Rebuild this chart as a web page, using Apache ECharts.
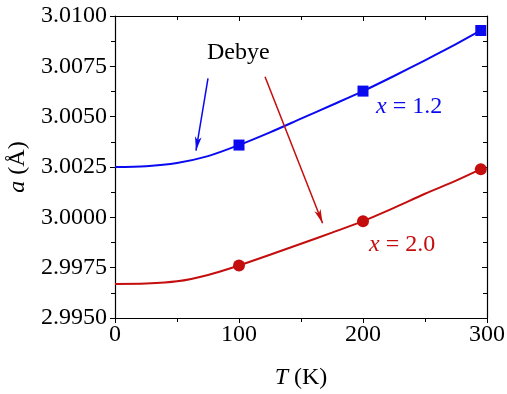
<!DOCTYPE html>
<html>
<head>
<meta charset="utf-8">
<script src="https://cdn.jsdelivr.net/npm/echarts@6/dist/echarts.min.js"></script>
<style>
  html, body { margin: 0; padding: 0; background: #fff; }
  #chart { width: 507px; height: 394px; }
</style>
</head>
<body>
<div id="chart"></div>
<script>
// Debye fit curves
var curveT = [0, 25, 50, 75, 100, 125, 150, 175, 200, 225, 250, 275, 295]
var curve12 = [3.0025, 3.00254, 3.0027, 3.00304, 3.00359, 3.00422, 3.0049, 3.00558, 3.00627, 3.00702, 3.0078, 3.0086, 3.00928]
var curve20 = [2.99669, 2.99671, 2.99682, 2.99714, 2.99761, 2.99814, 2.99869, 2.99924, 2.99981, 3.00047, 3.00117, 3.00182, 3.00239]
// measured points
var pointT = [100, 200, 295]
var points12 = [3.00359, 3.00627, 3.00928]
var points20 = [2.99761, 2.99981, 3.00239]
// arrows from the "Debye" label: [start, tip] as [T, a]
var arrow12 = [[75, 3.0069], [65.3, 3.00331]]
var arrow20 = [[121, 3.00698], [167.4, 2.99971]]

var BLUE = '#0a0af0'
var RED = '#c40d0d'
var FONT = '"Liberation Serif", "Times New Roman", serif'

function pairs(xs, ys) {
  return xs.map(function(x, i) { return [x, ys[i]] })
}

function arrowLine(a, color) {
  return {
    silent: true,
    symbol: ['none', 'arrow'],
    symbolSize: [5, 14],
    label: { show: false },
    lineStyle: { color: color, width: 1.5, type: 'solid', opacity: 1 },
    data: [[{ coord: a[0] }, { coord: a[1] }]]
  }
}

var chart = echarts.init(document.getElementById('chart'))

var xBase = {
  type: 'value', min: 0, max: 300, interval: 100,
  axisLine: { show: true, onZero: false, lineStyle: { color: '#000', width: 1.2 } },
  splitLine: { show: false },
  minorTick: { show: true, splitNumber: 2, length: 4, lineStyle: { color: '#000' } }
}
var yBase = {
  type: 'value', min: 2.995, max: 3.01, interval: 0.0025,
  axisLine: { show: true, onZero: false, lineStyle: { color: '#000', width: 1.2 } },
  splitLine: { show: false },
  minorTick: { show: true, splitNumber: 2, length: 4, lineStyle: { color: '#000' } }
}

var option = {
  backgroundColor: '#fff',
  animation: false,
  grid: { left: 115, right: 20, top: 16, bottom: 76, containLabel: false, outerBoundsMode: 'none' },
  xAxis: [
    Object.assign({}, xBase, {
      position: 'bottom',
      axisTick: { show: true, inside: false, length: 5, lineStyle: { color: '#000' } },
      axisLabel: { color: '#000', fontFamily: FONT, fontSize: 24, margin: 5 },
      name: '{i|T} (K)',
      nameLocation: 'middle',
      nameGap: 48,
      nameTextStyle: {
        color: '#000', fontFamily: FONT, fontSize: 24,
        rich: { i: { fontStyle: 'italic', fontFamily: FONT, fontSize: 24, color: '#000' } }
      }
    }),
    Object.assign({}, xBase, {
      position: 'top',
      axisTick: { show: true, inside: true, length: 5, lineStyle: { color: '#000' } },
      axisLabel: { show: false }
    })
  ],
  yAxis: [
    Object.assign({}, yBase, {
      position: 'left',
      axisTick: { show: true, inside: false, length: 5, lineStyle: { color: '#000' } },
      axisLabel: {
        color: '#000', fontFamily: FONT, fontSize: 24, margin: 8,
        formatter: function(v) { return v.toFixed(4) }
      },
      name: '{i|a} (Å)',
      nameLocation: 'middle',
      nameRotate: 90,
      nameGap: 73,
      nameTextStyle: {
        color: '#000', fontFamily: FONT, fontSize: 24,
        rich: { i: { fontStyle: 'italic', fontFamily: FONT, fontSize: 24, color: '#000' } }
      }
    }),
    Object.assign({}, yBase, {
      position: 'right',
      axisTick: { show: true, inside: true, length: 5, lineStyle: { color: '#000' } },
      axisLabel: { show: false }
    })
  ],
  series: [
    {
      name: 'x = 1.2 fit',
      type: 'line',
      smooth: 0.3,
      showSymbol: false,
      data: pairs(curveT, curve12),
      lineStyle: { color: BLUE, width: 2 },
      markLine: arrowLine(arrow12, BLUE),
      z: 2
    },
    {
      name: 'x = 2.0 fit',
      type: 'line',
      smooth: 0.3,
      showSymbol: false,
      data: pairs(curveT, curve20),
      lineStyle: { color: RED, width: 2 },
      markLine: arrowLine(arrow20, RED),
      z: 2
    },
    {
      name: 'x = 1.2',
      type: 'scatter',
      symbol: 'rect',
      symbolSize: 11,
      data: pairs(pointT, points12),
      itemStyle: { color: BLUE, opacity: 1 },
      z: 3
    },
    {
      name: 'x = 2.0',
      type: 'scatter',
      symbol: 'circle',
      symbolSize: 12,
      data: pairs(pointT, points20),
      itemStyle: { color: RED, opacity: 1 },
      z: 3
    }
  ],
  graphic: [
    {
      type: 'text', left: 207, top: 41,
      style: { text: 'Debye', fill: '#000', font: '24px ' + FONT }
    },
    {
      type: 'text', left: 376, top: 95,
      style: {
        text: '{i|x} = 1.2', fill: BLUE, font: '24px ' + FONT,
        rich: { i: { fontStyle: 'italic', fill: BLUE, font: 'italic 24px ' + FONT } }
      }
    },
    {
      type: 'text', left: 369, top: 233,
      style: {
        text: '{i|x} = 2.0', fill: RED, font: '24px ' + FONT,
        rich: { i: { fontStyle: 'italic', fill: RED, font: 'italic 24px ' + FONT } }
      }
    }
  ]
}

chart.setOption(option)
</script>
</body>
</html>
